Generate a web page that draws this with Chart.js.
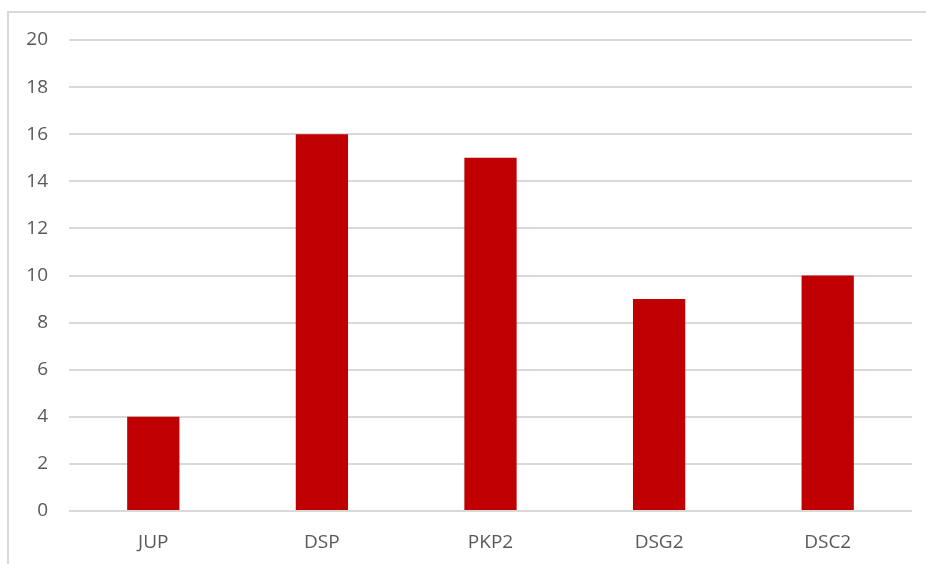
<!DOCTYPE html>
<html>
<head>
<meta charset="utf-8">
<script src="https://cdn.jsdelivr.net/npm/chart.js@4.4.1/dist/chart.umd.min.js"></script>
<style>
  html, body { margin: 0; padding: 0; background: #fff; }
  #wrap { position: relative; width: 926px; height: 564px; overflow: hidden; }
  #frame { position: absolute; left: 7px; top: 11px; width: 1000px; height: 700px;
           border-left: 2px solid #d9d9d9; border-top: 2px solid #d9d9d9; box-sizing: border-box; }
  #c { position: absolute; left: 0; top: 0; }
</style>
</head>
<body>
<div id="wrap">
  <div id="frame"></div>
  <canvas id="c" width="926" height="564"></canvas>
</div>
<script>
const categories = ['JUP', 'DSP', 'PKP2', 'DSG2', 'DSC2'];
const counts = [4, 16, 15, 9, 10];
const yMin = 0, yMax = 20, yStep = 2;

const fontFamily = '"Open Sans", "Liberation Sans", sans-serif';
const tickColor = '#595959';

new Chart(document.getElementById('c'), {
  type: 'bar',
  data: {
    labels: categories,
    datasets: [{
      data: counts,
      backgroundColor: '#c00000',
      borderWidth: 0,
      categoryPercentage: 1,
      barPercentage: 0.31
    }]
  },
  options: {
    responsive: false,
    animation: false,
    layout: { padding: { top: 40, right: 14, left: 0, bottom: 0 } },
    plugins: { legend: { display: false }, tooltip: { enabled: false } },
    scales: {
      x: {
        grid: { display: false, drawTicks: false },
        border: { display: false },
        ticks: { color: tickColor, font: { family: fontFamily, size: 19 }, padding: 20 },
        afterFit: s => { s.height = 53; }
      },
      y: {
        min: yMin, max: yMax,
        grid: { color: '#d9d9d9', lineWidth: 2, drawTicks: false },
        border: { display: false },
        ticks: { stepSize: yStep, color: tickColor, font: { family: fontFamily, size: 19 }, padding: 21 },
        afterFit: s => { s.width = 69; }
      }
    }
  }
});
</script>
</body>
</html>
